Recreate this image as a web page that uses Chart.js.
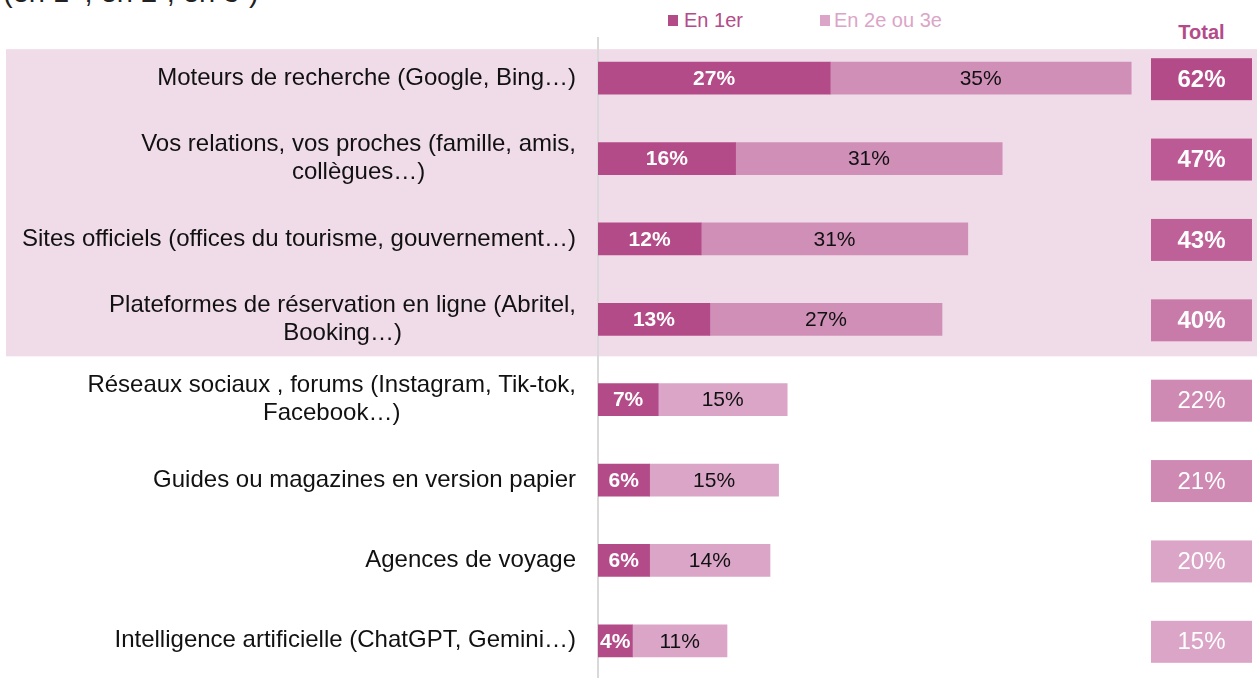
<!DOCTYPE html>
<html lang="fr">
<head>
<meta charset="utf-8">
<title>Sources d'information</title>
<script src="https://cdn.jsdelivr.net/npm/chart.js@4.4.1/dist/chart.umd.min.js"></script>
<style>
    html, body { margin: 0; padding: 0; background: #fff; overflow: hidden; }
    body { width: 1257px; height: 678px; position: relative; font-family: 'Liberation Sans', Arial, sans-serif; }
    #zone { position: absolute; left: 0; top: 0; width: 1257px; height: 681px; }
    .titre { position: absolute; left: 3px; top: -22px; font-size: 29px; line-height: 29px; color: #222; white-space: nowrap; }
    .titre sup { font-size: 0.6em; line-height: 0; vertical-align: 0.6em; }
    .legende { position: absolute; top: 10px; display: flex; align-items: center; font-size: 20px; line-height: 20px; white-space: nowrap; }
    .legende span.carre { display: inline-block; width: 10px; height: 11px; margin-right: 6px; }
    .total { position: absolute; left: 1151px; width: 101px; top: 22px; text-align: center; font-weight: bold; font-size: 20px; line-height: 20px; color: #b44b89; }
</style>
</head>
<body>
<div class="titre">(en 1<sup>er</sup>, en 2<sup>e</sup>, en 3<sup>e</sup>)</div>
<div class="legende" style="left:668px; color:#b44b89;"><span class="carre" style="background:#b44b89;"></span>En 1er</div>
<div class="legende" style="left:820px; color:#dba5c7;"><span class="carre" style="background:#dba5c7; margin-right:4px;"></span>En 2e ou 3e</div>
<div class="total">Total</div>
<div id="zone"><canvas id="grafique" width="1257" height="681"></canvas></div>
<script>
// Données
const categories = [
    'Moteurs de recherche (Google, Bing…)',
    ['Vos relations, vos proches (famille, amis,', 'collègues…)'],
    'Sites officiels (offices du tourisme, gouvernement…)',
    ['Plateformes de réservation en ligne (Abritel,', 'Booking…)'],
    ['Réseaux sociaux , forums (Instagram, Tik-tok,', 'Facebook…)'],
    'Guides ou magazines en version papier',
    'Agences de voyage',
    'Intelligence artificielle (ChatGPT, Gemini…)'
];
const enPremier = [27, 16, 12, 13, 7, 6, 6, 4];
const enSecond = [35, 31, 31, 27, 15, 15, 14, 11];
const totaux = [62, 47, 43, 40, 22, 21, 20, 15];

// Couleurs
const couleurFonce = '#b44b89';
const couleursSecond = ['#d08fb7', '#d08fb7', '#d08fb7', '#d08fb7', '#dba5c7', '#dba5c7', '#dba5c7', '#dba5c7'];
const couleursTotal = ['#b44b89', '#bb5a95', '#bf6199', '#c87ba9', '#cf8ab3', '#cf8ab3', '#dba5c7', '#dba5c7'];
const police = '"Liberation Sans", Arial, sans-serif';

/**
 * Bande rose derrière les 4 premières lignes
 */
const fondRose = {
    id: 'fondRose',
    beforeDraw(chart) {
        const y = chart.scales.y;
        const ctx = chart.ctx;
        const haut = y.getPixelForValue(0) - 29;
        const bas = y.getPixelForValue(3) + 37;
        ctx.save();
        ctx.fillStyle = '#f0dce8';
        ctx.fillRect(6, haut, chart.width - 6, bas - haut);
        ctx.restore();
    }
};

/**
 * Libellés des catégories (lignes multiples centrées)
 */
const libelles = {
    id: 'libelles',
    afterDraw(chart) {
        const y = chart.scales.y;
        const ctx = chart.ctx;
        const xDroite = chart.chartArea.left - 22;
        ctx.save();
        ctx.font = '24px ' + police;
        ctx.fillStyle = '#111';
        ctx.textBaseline = 'middle';
        categories.forEach((lab, i) => {
            const yc = y.getPixelForValue(i);
            const lignes = Array.isArray(lab) ? lab : [lab];
            const larg = Math.max(...lignes.map(l => ctx.measureText(l).width));
            lignes.forEach((l, k) => {
                const yl = yc + (k - (lignes.length - 1) / 2) * 28;
                if (lignes.length > 1) {
                    ctx.textAlign = 'center';
                    ctx.fillText(l, xDroite - larg / 2, yl);
                } else {
                    ctx.textAlign = 'right';
                    ctx.fillText(l, xDroite, yl);
                }
            });
        });
        ctx.restore();
    }
};

/**
 * Valeurs dans les barres + cases Total
 */
const valeurs = {
    id: 'valeurs',
    afterDatasetsDraw(chart) {
        const ctx = chart.ctx;
        ctx.save();
        ctx.textAlign = 'center';
        ctx.textBaseline = 'middle';
        chart.data.datasets.forEach((ds, d) => {
            chart.getDatasetMeta(d).data.forEach((bar, i) => {
                ctx.font = (d === 0 ? 'bold ' : '') + '21px ' + police;
                ctx.fillStyle = d === 0 ? '#fff' : '#111';
                ctx.fillText(ds.data[i] + '%', (bar.x + bar.base) / 2, bar.y + 1);
            });
        });

        const y = chart.scales.y;
        totaux.forEach((t, i) => {
            const yc = y.getPixelForValue(i) + 1;
            ctx.fillStyle = couleursTotal[i];
            ctx.fillRect(1151, yc - 21, 101, 42);
            ctx.font = (i < 4 ? 'bold ' : '') + '24px ' + police;
            ctx.fillStyle = '#fff';
            ctx.fillText(t + '%', 1201.5, yc + 1);
        });
        ctx.restore();
    }
};

const graphique = new Chart(document.getElementById('grafique'), {
    type: 'bar',
    data: {
        labels: categories,
        datasets: [
            {
                label: 'En 1er',
                data: enPremier,
                backgroundColor: couleurFonce,
                barThickness: 32
            },
            {
                label: 'En 2e ou 3e',
                data: enSecond,
                backgroundColor: couleursSecond,
                barThickness: 32
            }
        ]
    },
    options: {
        indexAxis: 'y',
        responsive: false,
        animation: false,
        layout: {
            padding: { top: 38, right: 14, bottom: 0, left: 0 }
        },
        scales: {
            x: {
                stacked: true,
                display: false,
                min: 0,
                max: 75
            },
            y: {
                stacked: true,
                grid: { display: false },
                border: { display: true, color: '#d9d9d9', width: 2 },
                ticks: { display: false },
                afterFit(scale) {
                    scale.width = 598;
                }
            }
        },
        plugins: {
            legend: { display: false },
            tooltip: {
                callbacks: {
                    label: function (context) {
                        return context.dataset.label + ' : ' + context.raw + '%';
                    }
                }
            }
        }
    },
    plugins: [fondRose, libelles, valeurs]
});
</script>
</body>
</html>
